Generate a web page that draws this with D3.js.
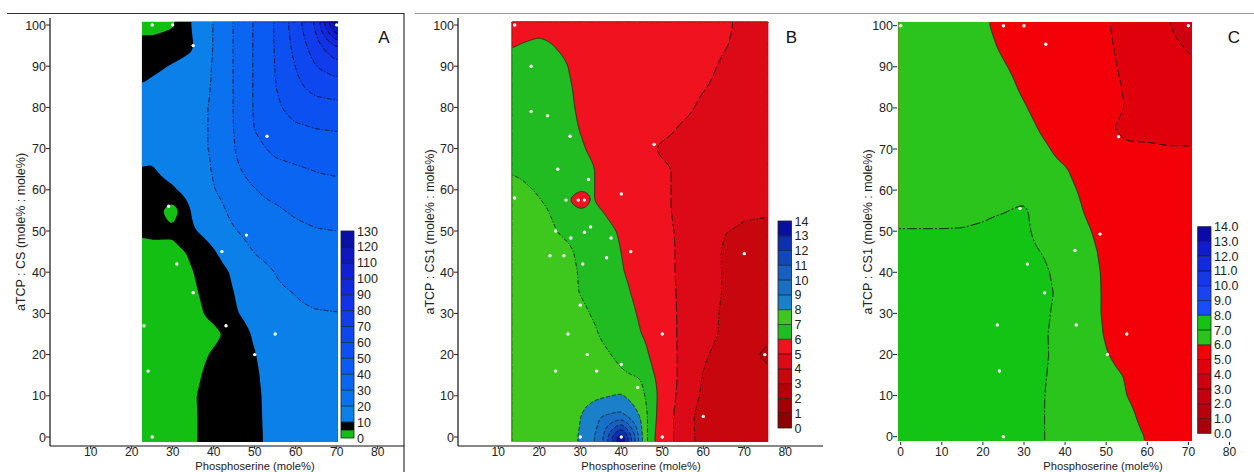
<!DOCTYPE html>
<html><head><meta charset="utf-8">
<script src="https://cdn.jsdelivr.net/npm/d3@7"></script>
<style>
body{margin:0;background:#fff}
svg{display:block}
text{font-family:Arial,"Liberation Sans",sans-serif}
</style>
</head><body>
<svg id="chart" width="1254" height="472"></svg>
<script>
// ---------------- data ----------------
const yTickVals = [0,10,20,30,40,50,60,70,80,90,100];
const xTickValsAB = [10,20,30,40,50,60,70,80];
const xTickValsC = [0,10,20,30,40,50,60,70,80];
const xTitle = 'Phosphoserine (mole%)';
const yTitleA = 'aTCP : CS (mole% : mole%)';
const yTitleBC = 'aTCP : CS1 (mole% : mole%)';

// Panel A field (values at grid nodes)
const aCols = [22.5, 25, 30, 35, 40, 45, 50, 55, 60, 65, 70.5];
const aRows = [0,5,10,15,20,25,30,35,40,45,50,55,60,65,70,75,80,85,90,95,100];
const aGrid = [
 [2, 2, 2, 4.5, 7, 7.5, 8, 13, 13.5, 14, 14],
 [2, 2, 2, 4.5, 7, 7.5, 8, 13.5, 14, 14.5, 14.5],
 [2, 2, 2, 4.6, 7, 7.5, 8, 14, 14.5, 15, 15],
 [2, 2, 2, 4, 6.5, 7.5, 8.5, 14.8, 15.5, 16, 16],
 [2, 2, 2, 3.5, 5.5, 7.8, 9.5, 15.7, 16.5, 17, 17],
 [2, 2, 2, 3.5, 4.0, 6.5, 10.8, 16.7, 17.5, 18.2, 18.5],
 [2, 2, 2, 4, 6, 9.3, 12.5, 17.8, 18.8, 19.5, 19.8],
 [2, 2, 2, 4.5, 6.5, 10, 14, 18.8, 20.2, 22, 22.5],
 [2, 2, 2, 5, 7, 11, 16.5, 20.2, 22.5, 24.5, 25],
 [2, 3, 3.5, 6, 9.5, 14, 20.5, 23, 25, 27, 27.5],
 [6.5, 6.5, 6, 9.5, 12.5, 19.2, 24.5, 26, 28, 29.5, 30],
 [7.5, 7.5, 2.8, 11, 15, 23.5, 27.5, 28.8, 31.3, 33, 33.5],
 [8, 8, 9.3, 13, 19.5, 26.5, 29.7, 32.5, 35, 37, 37.5],
 [9.9, 9.6, 12, 14, 21, 28.5, 33, 37.5, 39, 40.5, 41.5],
 [11, 11.5, 13, 17.5, 21, 29.7, 37.5, 42, 43.5, 45, 45.5],
 [11.5, 12, 13, 17.5, 21, 30.3, 40.5, 45, 48.5, 50.2, 51],
 [11, 12, 13, 17.5, 21, 30.5, 41, 48, 54, 56, 57.5],
 [10.3, 10.8, 11.5, 15, 21, 30.5, 41, 49.7, 57.5, 63.5, 65],
 [8.5, 9.2, 10.3, 11.5, 21, 30.5, 41, 50.2, 60.3, 70, 76],
 [7, 7.5, 8, 9.5, 20.5, 30.5, 41, 50.5, 63, 76, 92],
 [3, 2.5, 4.5, 10.5, 20.5, 30.5, 41, 50.7, 65, 82, 130]
];
const aLevels = [0,5,10,20,30,40,50,60,70,80,90,100,110,120,130];
const aBarLabels = [0,10,20,30,40,50,60,70,80,90,100,110,120,130];
const aDotX = [25,30,35,70,53,29,48,42,31,35,23,43,55,50,24,25];
const aDotY = [100,100,95,100,73,56,49,45,42,35,27,27,25,20,16,0];

// Panel B field
const bCols = [13.3, 20, 25, 30, 32.5, 35, 40, 45, 47.5, 50, 55, 60, 65, 70, 75.8];
const bRows = [0,5,10,15,20,25,30,35,40,45,50,55,57.5,60,65,70,75,80,85,90,95,100];
const bGrid = [
 [7.9, 7.9, 7.9, 8.0, 8.7, 9.5, 14, 8.05, 6.15, 5.55, 4.55, 3.6, 3.5, 3.4, 3.3],
 [7.9, 7.9, 7.85, 7.95, 8.4, 9.0, 9.3, 7.85, 6.3, 5.6, 4.5, 3.6, 3.5, 3.4, 3.3],
 [7.9, 7.85, 7.8, 7.75, 7.75, 7.85, 8.1, 7.3, 6.3, 5.7, 4.65, 3.85, 3.55, 3.35, 3.2],
 [7.85, 7.8, 7.7, 7.55, 7.45, 7.3, 7.1, 6.9, 6.05, 5.8, 4.7, 3.95, 3.6, 3.4, 3.2],
 [7.8, 7.7, 7.6, 7.45, 7.3, 7.15, 6.85, 6.3, 5.85, 5.4, 4.85, 4.1, 3.75, 3.3, 2.8],
 [7.75, 7.65, 7.5, 7.3, 7.15, 6.95, 6.6, 5.98, 5.75, 5.35, 4.85, 4.25, 3.9, 3.6, 3.2],
 [7.7, 7.6, 7.4, 7.15, 6.98, 6.85, 6.4, 5.85, 5.7, 5.35, 4.85, 4.3, 3.9, 3.75, 3.7],
 [7.65, 7.55, 7.35, 6.97, 6.85, 6.7, 6.2, 5.75, 5.55, 5.3, 4.85, 4.4, 3.95, 3.7, 3.65],
 [7.6, 7.5, 7.3, 6.95, 6.8, 6.65, 6.05, 5.7, 5.5, 5.25, 4.85, 4.4, 3.95, 3.7, 3.65],
 [7.55, 7.4, 7.2, 6.9, 6.75, 6.55, 5.98, 5.65, 5.45, 5.25, 4.85, 4.4, 3.95, 2.85, 3.7],
 [7.45, 7.3, 6.95, 6.8, 6.55, 6.3, 5.9, 5.6, 5.4, 5.2, 4.85, 4.6, 4.05, 3.85, 3.8],
 [7.35, 7.15, 6.8, 6.15, 6.2, 6.02, 5.65, 5.45, 5.3, 5.15, 4.8, 4.65, 4.45, 4.15, 4.1],
 [7.25, 7.02, 6.75, 5.2, 6.1, 5.85, 5.6, 5.45, 5.3, 5.15, 4.8, 4.65, 4.55, 4.5, 4.45],
 [7.15, 6.95, 6.7, 6.15, 6.1, 5.85, 5.6, 5.45, 5.3, 5.15, 4.8, 4.65, 4.6, 4.55, 4.5],
 [6.95, 6.85, 6.7, 6.3, 6.1, 5.85, 5.6, 5.45, 5.3, 5.15, 4.8, 4.65, 4.6, 4.55, 4.5],
 [6.7, 6.8, 6.6, 6.1, 5.9, 5.75, 5.6, 5.35, 5.1, 4.85, 4.7, 4.65, 4.6, 4.55, 4.5],
 [6.6, 6.7, 6.5, 5.95, 5.8, 5.7, 5.6, 5.5, 5.45, 5.25, 4.9, 4.7, 4.65, 4.6, 4.55],
 [6.5, 6.6, 6.4, 5.85, 5.75, 5.7, 5.6, 5.55, 5.5, 5.4, 5.2, 4.85, 4.7, 4.65, 4.6],
 [6.4, 6.5, 6.3, 5.8, 5.7, 5.65, 5.6, 5.55, 5.5, 5.45, 5.3, 5.05, 4.8, 4.7, 4.6],
 [6.3, 6.4, 6.2, 5.7, 5.65, 5.6, 5.55, 5.5, 5.5, 5.45, 5.35, 5.2, 4.9, 4.75, 4.6],
 [5.95, 6.25, 5.9, 5.6, 5.6, 5.55, 5.5, 5.5, 5.5, 5.4, 5.4, 5.3, 5.05, 4.8, 4.6],
 [5.5, 5.6, 5.6, 5.55, 5.55, 5.5, 5.5, 5.45, 5.45, 5.4, 5.4, 5.3, 5.15, 4.8, 4.6]
];
const bLevels = [0,1,2,3,4,5,6,7,8,9,10,11,12,13,14];
const bDotX = [14,18,18,22,27.5,48,24.5,32,40,14,26.5,29.5,31,24,32.5,31,27.7,37.5,42.3,22.6,26,36.4,30.6,70,30,27,50,31.7,40,75,34,24,44,60,30,40,50];
const bDotY = [100,90,79,78,73,71,65,62.5,59,58,57.5,57.5,57.5,50,51,49.7,48.3,48.3,45,44,44,43.5,42,44.5,32,25,25,20,17.6,20,16,16,12,5,0,0,0];

// Panel C field
const cCols = [-0.6, 5, 10, 15, 20, 25, 30, 35, 40, 45, 50, 55, 60, 65, 70.8];
const cRows = [0,5,10,15,20,25,30,35,40,45,50,55,60,65,70,75,80,85,90,95,100];
const cGrid = [
 [7.75, 7.75, 7.75, 7.75, 7.75, 7.75, 7.7, 6.97, 6.9, 6.75, 6.5, 6.3, 5.95, 5.5, 5.4],
 [7.7, 7.7, 7.7, 7.7, 7.7, 7.7, 7.65, 6.97, 6.9, 6.7, 6.45, 6.2, 5.75, 5.45, 5.4],
 [7.65, 7.65, 7.65, 7.65, 7.65, 7.65, 7.6, 6.98, 6.85, 6.6, 6.35, 6.0, 5.65, 5.45, 5.4],
 [7.6, 7.6, 7.6, 7.6, 7.6, 7.6, 7.55, 7.02, 6.8, 6.5, 6.2, 5.95, 5.6, 5.45, 5.4],
 [7.55, 7.55, 7.55, 7.55, 7.55, 7.55, 7.5, 7.05, 6.8, 6.4, 6.05, 5.7, 5.5, 5.4, 5.4],
 [7.5, 7.5, 7.5, 7.5, 7.5, 7.5, 7.45, 7.05, 6.75, 6.3, 5.95, 4.9, 5.5, 5.4, 5.4],
 [7.45, 7.45, 7.45, 7.45, 7.45, 7.45, 7.4, 7.1, 6.75, 6.3, 5.9, 5.6, 5.45, 5.4, 5.4],
 [7.4, 7.4, 7.4, 7.4, 7.4, 7.4, 7.35, 7.15, 6.8, 6.3, 5.9, 5.6, 5.45, 5.4, 5.4],
 [7.35, 7.35, 7.35, 7.35, 7.35, 7.35, 7.3, 7.1, 6.7, 6.25, 5.9, 5.6, 5.45, 5.4, 5.4],
 [7.3, 7.3, 7.3, 7.3, 7.3, 7.3, 7.2, 6.95, 6.6, 6.2, 5.85, 5.6, 5.45, 5.4, 5.4],
 [7.02, 7.02, 7.02, 7.03, 7.08, 7.2, 7.15, 6.7, 6.4, 6.1, 5.75, 5.5, 5.4, 5.35, 5.35],
 [6.85, 6.85, 6.85, 6.85, 6.9, 6.97, 7.1, 6.6, 6.35, 5.95, 5.6, 5.4, 5.35, 5.3, 5.3],
 [6.8, 6.8, 6.8, 6.8, 6.75, 6.7, 6.75, 6.4, 6.2, 5.85, 5.5, 5.35, 5.3, 5.25, 5.25],
 [6.75, 6.75, 6.75, 6.7, 6.6, 6.5, 6.4, 6.2, 6.05, 5.7, 5.4, 5.3, 5.25, 5.2, 5.2],
 [6.7, 6.7, 6.7, 6.65, 6.55, 6.45, 6.3, 6.08, 5.8, 5.55, 5.25, 5.1, 5.1, 5.05, 5.05],
 [6.65, 6.65, 6.65, 6.6, 6.5, 6.35, 6.2, 5.9, 5.65, 5.45, 5.1, 4.85, 4.8, 4.75, 4.7],
 [6.6, 6.6, 6.6, 6.55, 6.45, 6.3, 6.05, 5.75, 5.55, 5.4, 5.2, 4.97, 4.75, 4.55, 4.4],
 [6.6, 6.6, 6.55, 6.5, 6.4, 6.2, 5.9, 5.65, 5.5, 5.35, 5.15, 4.95, 4.7, 4.5, 4.3],
 [6.55, 6.55, 6.5, 6.45, 6.35, 6.05, 5.8, 5.6, 5.5, 5.35, 5.12, 4.9, 4.65, 4.45, 4.15],
 [6.5, 6.5, 6.45, 6.4, 6.2, 5.9, 5.7, 5.55, 5.45, 5.3, 5.08, 4.85, 4.6, 4.25, 3.85],
 [6.5, 6.5, 6.45, 6.35, 6.1, 5.8, 5.65, 5.55, 5.45, 5.3, 5.05, 4.8, 4.5, 4.05, 3.5]
];
const cLevels = [0,1,2,3,4,5,6,7,8,9,10,11,12,13,14];
const cDotX = [0,25,30,70,35.3,53,29,48.5,42.4,30.8,35,23.5,42.7,55,50.3,24,25];
const cDotY = [100,100,100,100,95.5,73,55.5,49.3,45.3,42,35,27.2,27.2,25,20,16,0];

// ---------------- styles ----------------
const aColors = ['#12bf12','#000000','#0a80e8','#0a72ee','#0a66f2','#0a5bf2','#0c50f2','#0e46f0','#103cec','#1232e6','#1228dc','#101fcf','#0e17be','#0a10a5'];
const bColors = ['#8c0000','#a00005','#b40008','#c8060e','#dc0a16','#f0121e','#20bc22','#3ec81e','#1a80c8','#1870c6','#1560c2','#1048b8','#0c30ae','#0810a0'];
const cColors = ['#a8000a','#b8000c','#c4000e','#ce0010','#e0000c','#f40008','#2ac41c','#14c414','#1a4cff','#1842f2','#1538e8','#122ade','#0e1ccc','#0a0aa8'];

const svg = d3.select('#chart');
const defs = svg.append('defs');

function bilinear(cols, rows, grid, x, y) {
  x = Math.max(cols[0], Math.min(cols[cols.length-1], x));
  y = Math.max(rows[0], Math.min(rows[rows.length-1], y));
  let i = d3.bisectRight(cols, x) - 1; i = Math.max(0, Math.min(cols.length-2, i));
  let j = d3.bisectRight(rows, y) - 1; j = Math.max(0, Math.min(rows.length-2, j));
  const tx = (x - cols[i]) / (cols[i+1] - cols[i]);
  const ty = (y - rows[j]) / (rows[j+1] - rows[j]);
  return grid[j][i]*(1-tx)*(1-ty) + grid[j][i+1]*tx*(1-ty) + grid[j+1][i]*(1-tx)*ty + grid[j+1][i+1]*tx*ty;
}

function drawField(id, xs, ys, fx, fy, cols, rows, grid, levels, colors, lineStyle, blurR) {
  const g = svg.append('g');
  const px0 = xs(fx[0]), px1 = xs(fx[1]), pyTop = ys(fy[1]), pyBot = ys(fy[0]);
  const nx = Math.round(px1 - px0), ny = Math.round(pyBot - pyTop);
  const gx = d3.scaleLinear([0, nx], fx);
  const gy = d3.scaleLinear([0, ny], [fy[1], fy[0]]);
  const values = new Float64Array(nx * ny);
  for (let j = 0; j < ny; j++) {
    const y = gy(j + 0.5);
    for (let i = 0; i < nx; i++) values[j*nx + i] = bilinear(cols, rows, grid, gx(i + 0.5), y);
  }
  if (blurR && d3.blur2) d3.blur2({data: values, width: nx, height: ny}, blurR);
  const contours = d3.contours().size([nx, ny]).thresholds(levels.slice(0, -1))(values);
  const path = d3.geoPath(d3.geoTransform({point(x, y) { this.stream.point(xs(gx(x)), ys(gy(y))); }}));
  g.append('g').selectAll('path').data(contours).join('path')
    .attr('d', path).attr('fill', (d, i) => colors[i]);
  defs.append('clipPath').attr('id', 'clip' + id).append('rect')
    .attr('x', px0 + 1).attr('y', pyTop + 1).attr('width', px1 - px0 - 2).attr('height', pyBot - pyTop - 2);
  const lg = g.append('g').attr('clip-path', `url(#clip${id})`);
  contours.forEach(c => {
    const st = lineStyle[c.value];
    if (!st) return;
    lg.append('path').attr('d', path(c)).attr('fill', 'none')
      .attr('stroke', st.c || '#111').attr('stroke-width', st.w || 0.9)
      .attr('stroke-dasharray', st.d || null);
  });
}

function drawDots(xs, ys, dx, dy) {
  svg.append('g').selectAll('circle').data(dx).join('circle')
    .attr('cx', d => xs(d)).attr('cy', (d, i) => ys(dy[i])).attr('r', 1.7).attr('fill', '#fff');
}

function drawColorbar(x0, w, cb, levels, colors, labels, fmt) {
  const g = svg.append('g');
  g.selectAll('rect.band').data(colors).join('rect')
    .attr('x', x0).attr('width', w)
    .attr('y', (d, i) => cb(levels[i+1])).attr('height', (d, i) => cb(levels[i]) - cb(levels[i+1]))
    .attr('fill', d => d);
  g.selectAll('line.sep').data(levels.slice(1, -1)).join('line')
    .attr('x1', x0).attr('x2', x0 + w).attr('y1', d => cb(d)).attr('y2', d => cb(d))
    .attr('stroke', '#000').attr('stroke-width', 0.8).attr('opacity', 0.75);
  g.append('rect').attr('x', x0).attr('y', cb(levels[levels.length-1])).attr('width', w)
    .attr('height', cb(levels[0]) - cb(levels[levels.length-1]))
    .attr('fill', 'none').attr('stroke', '#222').attr('stroke-width', 0.8);
  g.selectAll('text').data(labels).join('text')
    .attr('x', x0 + w + 3).attr('y', d => cb(d)).attr('dy', '0.36em')
    .attr('font-size', 12.5).attr('fill', '#222').text(fmt);
}

function drawYAxis(xs, ys, xAxisPos, withLine, top) {
  const g = svg.append('g');
  if (withLine) g.append('line').attr('x1', xAxisPos).attr('x2', xAxisPos).attr('y1', top).attr('y2', 446)
    .attr('stroke', '#111').attr('stroke-width', 1.2);
  g.selectAll('line.t').data(yTickVals).join('line').attr('class', 't')
    .attr('x1', xAxisPos - 4).attr('x2', xAxisPos).attr('y1', d => ys(d)).attr('y2', d => ys(d))
    .attr('stroke', '#222').attr('stroke-width', 1);
  g.selectAll('text').data(yTickVals).join('text')
    .attr('x', xAxisPos - 4).attr('y', d => ys(d)).attr('dy', '0.36em').attr('text-anchor', 'end')
    .attr('font-size', 12.5).attr('fill', '#222').text(d => d);
}

function drawXAxis(xs, ticks, x0, x1, withLine, tickY) {
  const g = svg.append('g');
  if (withLine) g.append('line').attr('x1', x0).attr('x2', x1).attr('y1', 446).attr('y2', 446)
    .attr('stroke', '#111').attr('stroke-width', 1.2);
  g.selectAll('line.t').data(ticks).join('line').attr('class', 't')
    .attr('x1', d => xs(d)).attr('x2', d => xs(d)).attr('y1', tickY).attr('y2', tickY + 3)
    .attr('stroke', '#222').attr('stroke-width', 1);
  g.selectAll('text').data(ticks).join('text')
    .attr('x', d => xs(d)).attr('y', 452).attr('dy', '0.36em').attr('text-anchor', 'middle')
    .attr('font-size', 12).attr('fill', '#222').text(d => d);
}

function titles(xc, yTitleX, yTitle) {
  svg.append('text').attr('x', xc).attr('y', 469.6).attr('text-anchor', 'middle')
    .attr('font-size', 11.2).attr('fill', '#222').text(xTitle);
  svg.append('text').attr('transform', `translate(${yTitleX},232) rotate(-90)`).attr('dy', '0.36em')
    .attr('text-anchor', 'middle').attr('font-size', 12.5).attr('fill', '#222').text(yTitle);
}

// frame lines
svg.append('line').attr('x1', 7).attr('x2', 404).attr('y1', 13.5).attr('y2', 13.5).attr('stroke', '#333').attr('stroke-width', 1.2);
svg.append('line').attr('x1', 404).attr('x2', 404).attr('y1', 13).attr('y2', 472).attr('stroke', '#333').attr('stroke-width', 1.2);
svg.append('line').attr('x1', 415).attr('x2', 1254).attr('y1', 13.5).attr('y2', 13.5).attr('stroke', '#999').attr('stroke-width', 1.2);

// ---------- Panel A ----------
const xA = d3.scaleLinear([0, 80], [49.7, 377.7]);
const yA = d3.scaleLinear([0, 100], [437, 25]);
const aLineStyle = {};
[20,30,40,50,60,70,80,90,100,110,120].forEach(v => aLineStyle[v] = {d: '5,2,1,2', w: 0.9, c: '#0a0a1a'});
drawField('A', xA, yA, [22.5, 70.3], [-1.2, 100.8], aCols, aRows, aGrid, aLevels, aColors, aLineStyle, 1.5);
drawDots(xA, yA, aDotX, aDotY);
drawYAxis(xA, yA, 50, true, 18);
drawXAxis(xA, xTickValsAB, 50, 404, true, 446);
drawColorbar(341, 13, d3.scaleLinear([0, 130], [438, 231]), aLevels, aColors, aBarLabels, d => d);
titles(255, 20, yTitleA);
svg.append('text').attr('x', 384).attr('y', 37).attr('dy', '0.36em').attr('text-anchor', 'middle').attr('font-size', 17).attr('fill', '#111').text('A');

// ---------- Panel B ----------
const xB = d3.scaleLinear([0, 80], [457.3, 785.3]);
const yB = d3.scaleLinear([0, 100], [437, 25]);
const bLineStyle = {
  3: {d: '4,2', w: 0.9}, 4: {d: '5,2,1,2', w: 0.9}, 5: {d: '10,3', w: 1}, 6: {w: 0.8, c: '#222'},
  7: {d: '4,2,1,2', w: 0.9}, 8: {d: '4,2', w: 0.8}, 9: {d: '4,2', w: 0.8}, 10: {d: '4,2', w: 0.8},
  11: {d: '4,2', w: 0.8}, 12: {d: '4,2', w: 0.8}, 13: {d: '4,2', w: 0.8}
};
drawField('B', xB, yB, [13.3, 75.8], [-1.2, 100.8], bCols, bRows, bGrid, bLevels, bColors, bLineStyle, 2);
drawDots(xB, yB, bDotX, bDotY);
drawYAxis(xB, yB, 458, true, 18);
drawXAxis(xB, xTickValsAB, 458, 823, true, 446);
drawColorbar(778, 13.5, d3.scaleLinear([0, 14], [428, 221]), bLevels, bColors, bLevels, d => d);
titles(641, 429, yTitleBC);
svg.append('text').attr('x', 791.5).attr('y', 37).attr('dy', '0.36em').attr('text-anchor', 'middle').attr('font-size', 17).attr('fill', '#111').text('B');

// ---------- Panel C ----------
const xC = d3.scaleLinear([0, 80], [900.7, 1229.5]);
const yC = d3.scaleLinear([0, 100], [436.7, 25.7]);
const cLineStyle = {
  4: {d: '6,3', w: 0.9}, 5: {d: '8,3', w: 1}, 6: {w: 0.9, c: '#222'}, 7: {d: '10,2,2,2', w: 1}
};
drawField('C', xC, yC, [-0.6, 70.8], [-1.05, 100.9], cCols, cRows, cGrid, cLevels, cColors, cLineStyle, 2);
drawDots(xC, yC, cDotX, cDotY);
drawYAxis(xC, yC, 897, false, 18);
drawXAxis(xC, xTickValsC, 898, 1254, false, 442);
drawColorbar(1197.7, 13.3, d3.scaleLinear([0, 14], [433.3, 226.7]), cLevels, cColors, cLevels, d3.format('.1f'));
titles(1103, 867, yTitleBC);
svg.append('text').attr('x', 1234).attr('y', 37).attr('dy', '0.36em').attr('text-anchor', 'middle').attr('font-size', 17).attr('fill', '#111').text('C');
</script>
</body></html>
